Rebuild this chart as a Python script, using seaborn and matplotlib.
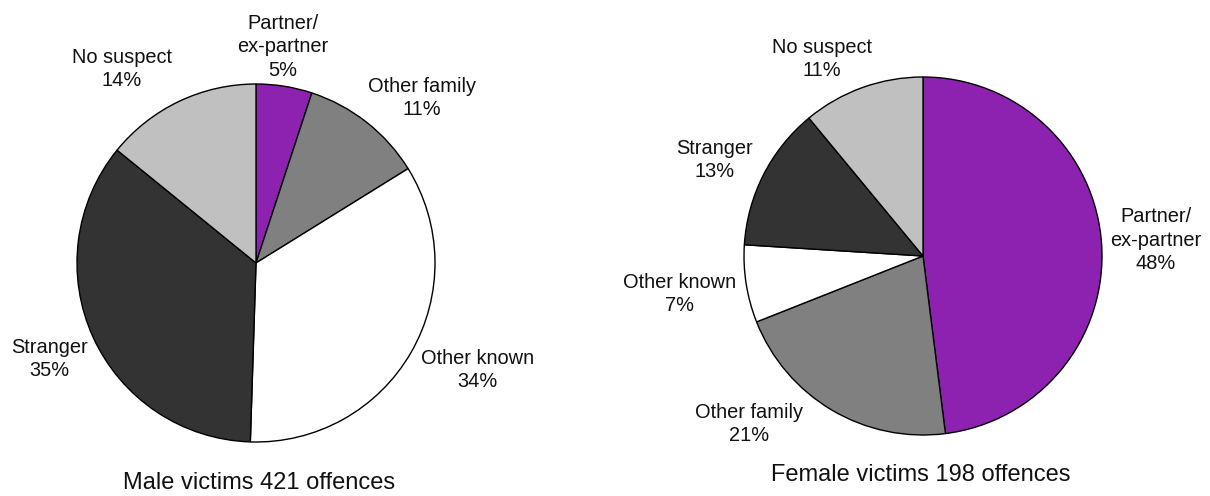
import matplotlib
matplotlib.use("Agg")
import matplotlib.pyplot as plt
import seaborn as sns

# data (percent of offences, clockwise from 12 o'clock)
categories = ["Partner/\nex-partner", "Other family", "Other known", "Stranger", "No suspect"]
male_pct = [5, 11, 34, 35, 14]
female_pct = [48, 21, 7, 13, 11]
male_title = "Male victims 421 offences"
female_title = "Female victims 198 offences"

colors = ["#8E22B0", "#808080", "#FFFFFF", "#333333", "#C0C0C0"]

sns.set_theme(style="white")
plt.rcParams["font.family"] = ["Liberation Sans", "DejaVu Sans"]

W, H, R = 1210, 496, 179  # figure px and pie radius px

fig = plt.figure(figsize=(12.1, 4.96), dpi=100)

# label positions in pie-radius units (layout only)
male_lab = [(0.151, 1.207), (0.927, 0.922), (1.235, -0.598), (-1.154, -0.536), (-0.749, 1.084)]
female_lab = [(1.302, 0.089), (-0.972, -0.939), (-1.358, -0.212), (-1.162, 0.536), (-0.564, 1.101)]


def draw_pie(cx, cy, values, lab_pos, title, title_pos):
    ax = fig.add_axes([(cx - R) / W, (H - cy - R) / H, 2 * R / W, 2 * R / H])
    ax.pie(values, colors=colors, startangle=90, counterclock=False, radius=1,
           wedgeprops=dict(edgecolor="black", linewidth=1.0))
    ax.set_xlim(-1, 1)
    ax.set_ylim(-1, 1)
    ax.set_aspect("equal")
    ax.axis("off")
    for cat, v, (x, y) in zip(categories, values, lab_pos):
        ax.text(x, y, f"{cat}\n{v}%", ha="center", va="center", fontsize=14.4,
                linespacing=1.3, color="#111111")
    ax.text(title_pos[0], title_pos[1], title, ha="center", va="center", fontsize=17,
            color="#111111")


draw_pie(256, 263, male_pct, male_lab, male_title, (0.017, -1.229))
draw_pie(923, 256, female_pct, female_lab, female_title, (-0.011, -1.223))

fig.savefig("out.png", dpi=100)
